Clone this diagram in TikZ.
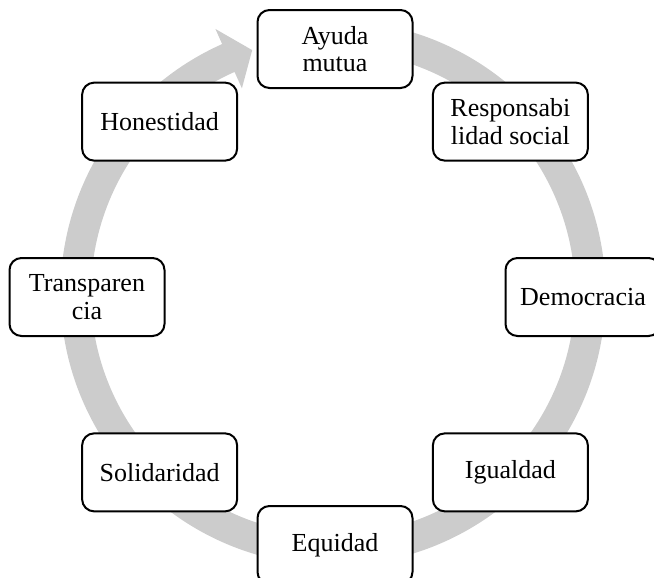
\documentclass[tikz,border=0pt]{standalone}
\usepackage{fontspec}
\setmainfont{Liberation Serif}
\usepackage{tikz}
\definecolor{ringgray}{HTML}{CCCCCC}
\tikzset{
  valorbox/.style = {draw=black, line width=1pt, fill=white},
}

\begin{document}
\begin{tikzpicture}[
            x=0.5pt, y=0.5pt,
            valor/.style ={valorbox, rounded corners=6pt, align=center,
                    inner sep=2pt, minimum width=77.5pt, minimum height=39pt,
                    font=\fontsize{13}{13.8}\selectfont},
            ring/.style  ={fill=ringgray, draw=none}
        ]

        %% --- page: 654 x 578, origin at the top left corner ---------------
        \useasboundingbox (0,0) rectangle (654,-578);
        \clip (0,0) rectangle (654,-578);

        \coordinate (ctr) at (335,-297);  % centre of the boxes
        \coordinate (rc)  at (333,-293);  % centre of the grey ring

        %% --- Grey ring, clockwise, head just before the top box ----------
        \fill[ring] ([shift={(90:272.5)}]rc)
            arc[start angle=90, end angle=-246, radius=272.5]
            -- ([shift={(-246:289)}]rc)
            -- ([shift={(-251.6:256)}]rc)
            -- ([shift={(-246:224)}]rc)
            -- ([shift={(-246:242)}]rc)
            arc[start angle=-246, end angle=90, radius=242]
            -- cycle;

        %% --- Values, every 45 degrees --------------------------------------
        \node[valor] (ayuda)  at ([shift={(90:248)}]ctr)   {Ayuda\\ mutua};
        \node[valor] (resp)   at ([shift={(45:248)}]ctr)   {Responsabi\\ lidad social};
        \node[valor] (demo)   at ([shift={(0:248)}]ctr)    {Democracia};
        \node[valor] (igual)  at ([shift={(-45:248)}]ctr)  {Igualdad};
        \node[valor] (equi)   at ([shift={(-90:248)}]ctr)  {Equidad};
        \node[valor] (soli)   at ([shift={(-135:248)}]ctr) {Solidaridad};
        \node[valor] (transp) at ([shift={(180:248)}]ctr)  {Transparen\\ cia};
        \node[valor] (hones)  at ([shift={(135:248)}]ctr)  {Honestidad};

    \end{tikzpicture}
\end{document}
